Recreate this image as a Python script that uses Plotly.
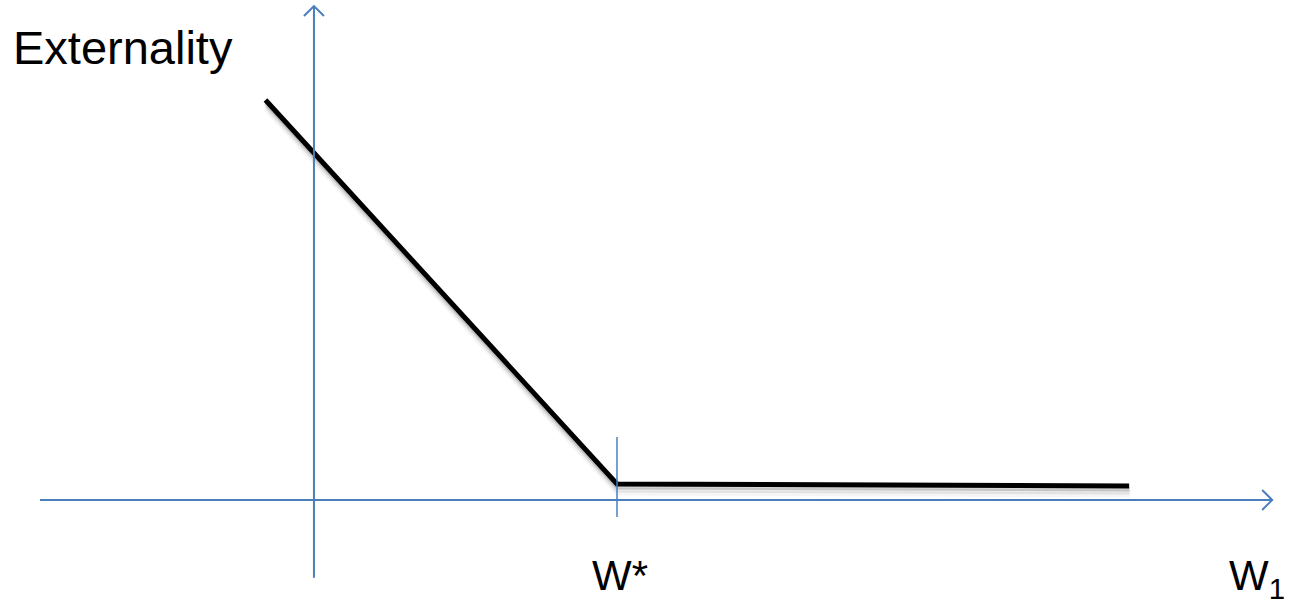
import plotly.graph_objects as go

# Data (W1 axis: origin = 0, W* = 1)
w_values = [-0.16, 1.0, 2.69]
externality_values = [1.32, 0.053, 0.046]
w_star = 1.0

x_axis_extent = [-0.904, 3.162]
y_axis_extent = [-0.257, 1.630]
tick_extent = [-0.056, 0.208]

x_range = [-1.036, 3.300]
y_range = [-0.350, 1.650]

W, H = 1314, 606
AXIS_BLUE = "#4A7EBB"
FONT = "Liberation Sans, Arial, sans-serif"

# pixel -> data unit helpers (for arrowhead size / shadow offset)
px_x = (x_range[1] - x_range[0]) / W
px_y = (y_range[1] - y_range[0]) / H

fig = go.Figure()

# soft shadow under the curve
for off, alpha in [(3, 0.16), (6, 0.08), (9, 0.04)]:
    fig.add_trace(go.Scatter(
        x=[v + 0.5 * px_x for v in w_values],
        y=[v - off * px_y for v in externality_values],
        mode="lines", line=dict(color=f"rgba(0,0,0,{alpha})", width=5),
        hoverinfo="skip", showlegend=False))
fig.add_trace(go.Scatter(
    x=w_values, y=externality_values, mode="lines",
    line=dict(color="black", width=5), hoverinfo="skip", showlegend=False))

# axes
head = 10
fig.add_trace(go.Scatter(
    x=[x_axis_extent[0], x_axis_extent[1], None,
       x_axis_extent[1] - head * px_x, x_axis_extent[1], x_axis_extent[1] - head * px_x],
    y=[0, 0, None, head * px_y, 0, -head * px_y],
    mode="lines", line=dict(color=AXIS_BLUE, width=2), hoverinfo="skip", showlegend=False))
fig.add_trace(go.Scatter(
    x=[0, 0, None, -head * px_x, 0, head * px_x],
    y=[y_axis_extent[0], y_axis_extent[1], None,
       y_axis_extent[1] - head * px_y, y_axis_extent[1], y_axis_extent[1] - head * px_y],
    mode="lines", line=dict(color=AXIS_BLUE, width=2), hoverinfo="skip", showlegend=False))

# W* tick
fig.add_trace(go.Scatter(
    x=[w_star, w_star], y=tick_extent, mode="lines",
    line=dict(color=AXIS_BLUE, width=1.5), hoverinfo="skip", showlegend=False))

# labels
fig.add_annotation(x=0.008, y=0.921, xref="paper", yref="paper", text="Externality",
                   showarrow=False, xanchor="left", yanchor="middle",
                   font=dict(family=FONT, size=47, color="black"))
fig.add_annotation(x=w_star + 0.01, y=-0.25, xref="x", yref="y", text="W*",
                   showarrow=False, xanchor="center", yanchor="middle",
                   font=dict(family=FONT, size=42, color="black"))
fig.add_annotation(x=0.934, y=0.046, xref="paper", yref="paper", text="W<sub>1</sub>",
                   showarrow=False, xanchor="left", yanchor="middle",
                   font=dict(family=FONT, size=42, color="black"))

fig.update_layout(
    width=W, height=H,
    margin=dict(l=0, r=0, t=0, b=0),
    paper_bgcolor="white", plot_bgcolor="white",
    xaxis=dict(range=x_range, visible=False, fixedrange=True),
    yaxis=dict(range=y_range, visible=False, fixedrange=True),
    showlegend=False,
)

fig.write_html("out.html", config={"displayModeBar": False},
               post_script="document.body.style.margin='0';document.body.style.overflow='hidden';")
